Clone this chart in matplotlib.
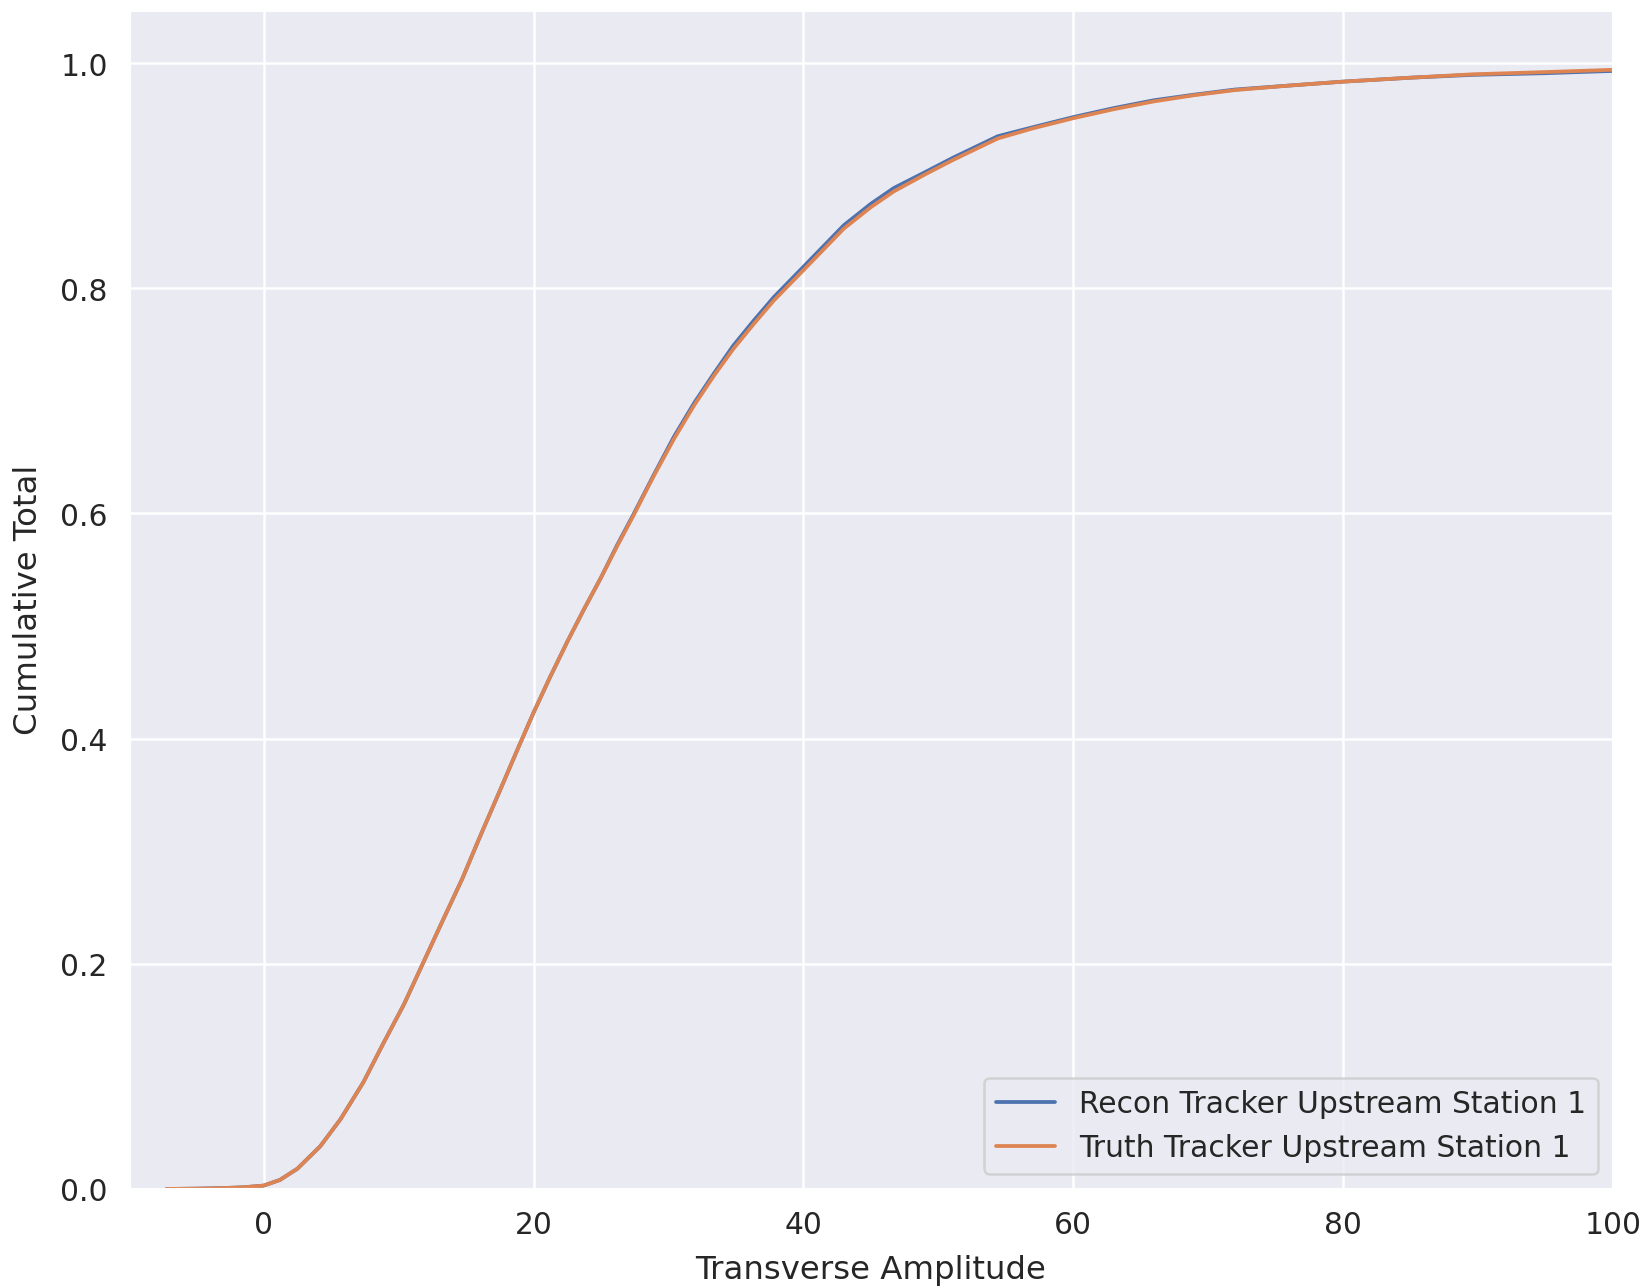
import matplotlib
matplotlib.use("Agg")
import matplotlib.pyplot as plt
import seaborn as sns

sns.set_theme(context="talk", style="darkgrid", font_scale=1.08)

# cumulative amplitude distribution
amplitude = [-7.2, -5.0, -3.0, -1.5, 0.0, 1.2, 2.5, 4.2, 5.7, 7.4, 8.9, 10.4,
             11.75, 13.1, 14.7, 16.0, 17.55, 18.8, 20.0, 21.2, 22.5, 23.7,
             25.0, 26.2, 27.4, 28.9, 30.4, 31.9, 33.35, 34.8, 36.3, 37.8,
             40.0, 43.0, 45.0, 46.7, 49.0, 51.1, 54.4, 57.0, 60.0, 63.0,
             66.0, 69.0, 72.0, 76.0, 80.0, 85.0, 89.6, 95.0, 100.0]

truth = [0.0, 0.0003, 0.0008, 0.0015, 0.003, 0.008, 0.018, 0.038, 0.062,
         0.095, 0.130, 0.164, 0.199, 0.234, 0.275, 0.312, 0.355, 0.390,
         0.423, 0.454, 0.486, 0.514, 0.543, 0.571, 0.598, 0.633, 0.666,
         0.696, 0.722, 0.746, 0.768, 0.789, 0.816, 0.853, 0.872, 0.886,
         0.901, 0.914, 0.933, 0.942, 0.951, 0.959, 0.966, 0.9715, 0.976,
         0.980, 0.9835, 0.987, 0.990, 0.992, 0.994]

recon = [0.0, 0.0003, 0.0008, 0.0015, 0.003, 0.008, 0.018, 0.038, 0.062,
         0.095, 0.130, 0.164, 0.199, 0.234, 0.275, 0.312, 0.355, 0.390,
         0.423, 0.454, 0.486, 0.514, 0.543, 0.572, 0.599, 0.634, 0.668,
         0.698, 0.724, 0.749, 0.771, 0.792, 0.819, 0.856, 0.875, 0.889,
         0.903, 0.916, 0.935, 0.943, 0.952, 0.960, 0.967, 0.972, 0.9765,
         0.980, 0.9835, 0.987, 0.9895, 0.991, 0.993]

fig = plt.figure(figsize=(13.75, 10.7333), dpi=120)
ax = fig.add_subplot(111)
fig.subplots_adjust(left=0.078, right=0.9776, bottom=0.0761, top=0.9918)

ax.plot(amplitude, recon, label="Recon Tracker Upstream Station 1")
ax.plot(amplitude, truth, label="Truth Tracker Upstream Station 1")

ax.set_xlim(-10, 100)
ax.set_ylim(0, 1.0475)
ax.set_xlabel("Transverse Amplitude", labelpad=9)
ax.set_ylabel("Cumulative Total", labelpad=10)
ax.legend(loc="lower right")

fig.savefig("out.png", dpi=120)
